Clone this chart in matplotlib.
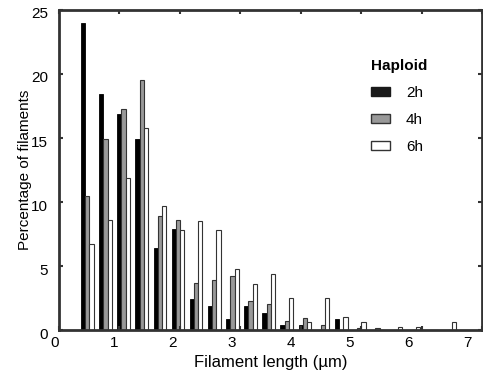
import numpy as np
import matplotlib
matplotlib.use("Agg")
import matplotlib.pyplot as plt
import matplotlib.transforms as mtransforms
from matplotlib.patches import Patch

plt.rcParams['font.family'] = ['Liberation Sans', 'DejaVu Sans']

# Bin centres (µm) and percentage of filaments per bin
bin_centers = [0.47, 0.77, 1.07, 1.37, 1.67, 1.97, 2.27, 2.57, 2.87, 3.17, 3.47,
               3.77, 4.07, 4.37, 4.67, 4.97, 5.27, 5.57, 5.87, 6.17, 6.47]
pct_2h = [24.0, 18.4, 16.9, 14.9, 6.4, 7.9, 2.4, 1.9, 0.9, 1.9, 1.35,
          0.4, 0.4, 0.0, 0.85, 0.0, 0.0, 0.0, 0.0, 0.0, 0.0]
pct_4h = [10.5, 14.9, 17.3, 19.5, 8.9, 8.6, 3.7, 3.95, 4.2, 2.3, 2.05,
          0.68, 0.96, 0.42, 0.0, 0.2, 0.2, 0.0, 0.0, 0.0, 0.0]
pct_6h = [6.7, 8.6, 11.9, 15.8, 9.7, 7.8, 8.5, 7.8, 4.75, 3.6, 4.4,
          2.48, 0.63, 2.48, 1.0, 0.65, 0.0, 0.23, 0.23, 0.0, 0.63]
labels = ["2h", "4h", "6h"]
x_ticks = [0, 1, 2, 3, 4, 5, 6, 7]
y_ticks = [0, 5, 10, 15, 20, 25]

fig = plt.figure(figsize=(4.83, 3.83), dpi=100)
ax = fig.add_axes([0.122, 0.138, 0.876, 0.836])

x = np.array(bin_centers)
w = 0.07
edge = '#333333'
ax.bar(x - w, pct_2h, width=w, color='black', edgecolor='black', linewidth=0.6)
ax.bar(x, pct_4h, width=w, color='#999999', edgecolor=edge, linewidth=0.8)
ax.bar(x + w, pct_6h, width=w, color='white', edgecolor=edge, linewidth=0.8)

ax.set_xlim(0, 6.95)
ax.set_ylim(0, 25)
ax.set_xticks(x_ticks)
ax.set_yticks(y_ticks)
ax.tick_params(direction='in', length=3, width=1.5, color='#333333',
               top=True, right=True, labelsize=11, pad=4)
ax.tick_params(axis='y', pad=8)
for s in ax.spines.values():
    s.set_linewidth(2)
    s.set_color('#333333')

# the original figure's x labels sit a little left of their ticks (offsets in px)
for i, lab in enumerate(ax.get_xticklabels()):
    dx = -(4 + 1.5 * i) / 100.0
    lab.set_transform(lab.get_transform() +
                      mtransforms.ScaledTranslation(dx, 0, fig.dpi_scale_trans))
for lab in ax.get_yticklabels():
    lab.set_transform(lab.get_transform() +
                      mtransforms.ScaledTranslation(0, -3 / 100.0, fig.dpi_scale_trans))

ax.set_xlabel("Filament length (µm)", fontsize=12, labelpad=4)
ax.set_ylabel("Percentage of filaments", fontsize=11, labelpad=-1)

handles = [Patch(facecolor='#1a1a1a', edgecolor='#1a1a1a'),
           Patch(facecolor='#999999', edgecolor=edge),
           Patch(facecolor='white', edgecolor=edge)]
leg = ax.legend(handles, labels, title="Haploid", loc='upper left',
                bbox_to_anchor=(0.706, 0.89), frameon=False, fontsize=11,
                handlelength=1.25, handleheight=0.45, labelspacing=0.85,
                handletextpad=1.0, alignment='left')
leg.get_title().set_fontweight('bold')
leg.get_title().set_fontsize(11)

fig.savefig('out.png', dpi=100)
